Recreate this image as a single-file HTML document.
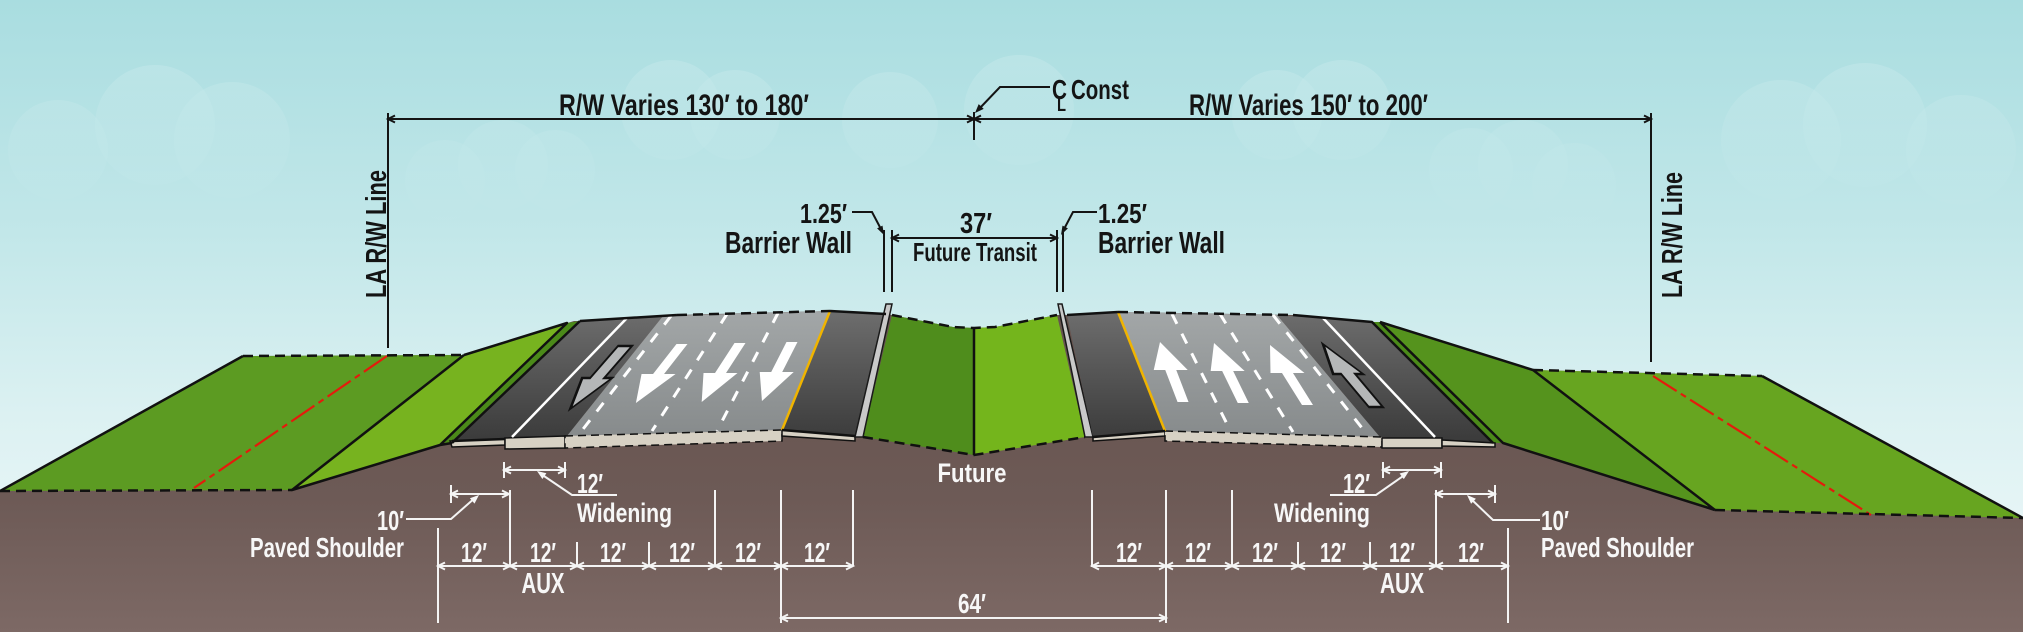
<!DOCTYPE html>
<html><head><meta charset="utf-8">
<style>
html,body{margin:0;padding:0;background:#fff}
svg{display:block}
.t{font-family:"Liberation Sans Narrow","Liberation Sans",sans-serif;font-weight:bold}
.k{fill:#141414}
.w{fill:#f7f7f7}
</style></head><body>
<svg xmlns="http://www.w3.org/2000/svg" width="2023" height="632" viewBox="0 0 2023 632">
<defs>
<linearGradient id="sky" gradientUnits="userSpaceOnUse" x1="0" y1="0" x2="0" y2="520">
 <stop offset="0" stop-color="#a9dde0"/>
 <stop offset="0.45" stop-color="#c2e7e9"/>
 <stop offset="0.8" stop-color="#dcf1f2"/>
 <stop offset="1" stop-color="#e6f5f6"/>
</linearGradient>
<linearGradient id="cl" gradientUnits="userSpaceOnUse" x1="0" y1="60" x2="0" y2="260">
 <stop offset="0" stop-color="#c4e8ea" stop-opacity="0.55"/>
 <stop offset="1" stop-color="#c4e8ea" stop-opacity="0"/>
</linearGradient>
<linearGradient id="gnd" gradientUnits="userSpaceOnUse" x1="0" y1="300" x2="0" y2="632">
 <stop offset="0" stop-color="#65524d"/>
 <stop offset="0.6" stop-color="#6d5a56"/>
 <stop offset="1" stop-color="#7d6965"/>
</linearGradient>
<linearGradient id="dk" gradientUnits="userSpaceOnUse" x1="0" y1="310" x2="0" y2="440">
 <stop offset="0" stop-color="#6e6e6e"/>
 <stop offset="1" stop-color="#3b3b3b"/>
</linearGradient>
<linearGradient id="lt" gradientUnits="userSpaceOnUse" x1="0" y1="310" x2="0" y2="440">
 <stop offset="0" stop-color="#a3a7a8"/>
 <stop offset="1" stop-color="#868a8b"/>
</linearGradient>
</defs>

<!-- sky -->
<rect x="0" y="0" width="2023" height="632" fill="url(#sky)"/>
<g fill="url(#cl)">
 <circle cx="58" cy="150" r="50"/><circle cx="155" cy="125" r="60"/><circle cx="232" cy="140" r="58"/>
 <circle cx="445" cy="180" r="40"/><circle cx="503" cy="165" r="45"/><circle cx="555" cy="170" r="40"/>
 <circle cx="671" cy="110" r="50"/><circle cx="735" cy="115" r="45"/><circle cx="890" cy="120" r="48"/>
 <circle cx="1019" cy="110" r="55"/><circle cx="1277" cy="115" r="45"/><circle cx="1342" cy="110" r="50"/>
 <circle cx="1471" cy="170" r="42"/><circle cx="1523" cy="165" r="45"/><circle cx="1574" cy="185" r="42"/>
 <circle cx="1781" cy="140" r="60"/><circle cx="1865" cy="125" r="62"/><circle cx="1961" cy="150" r="55"/>
</g>

<!-- ground -->
<polygon fill="url(#gnd)" points="0,491 243,356 464,355 574,321 580,321 677,315 830,311 886,314 892,315 953,327 974,328 995,327 1057,315 1067,315 1118,312 1293,315 1372,322 1380,322 1533,370 1762,376 2023,518 2023,632 0,632"/>

<!-- left grass -->
<polygon fill="#5c9b22" points="0,491 243,356 464,355 292,490"/>
<polygon fill="#77b31f" points="292,490 464,355 567,323 440,445"/>
<polygon fill="#4b8a19" points="440,445 567,323 580,321 452,443"/>

<!-- left road -->
<polygon fill="url(#dk)" points="452,441 580,321 663,316 567,436"/>
<polygon fill="url(#lt)" points="567,436 663,316 830,311 782,430"/>
<polygon fill="url(#dk)" points="782,430 830,311 886,314 855,436"/>
<g fill="#d7d1c4" stroke="#111" stroke-width="1.5">
 <polygon points="450,441 505,439 505,445 452,447"/>
 <polygon points="505,438 565,436 565,448 505,449"/>
 <polygon points="565,436 782,430 782,441 565,448" stroke-dasharray="8 5"/>
 <polygon points="782,430 855,436 855,441 782,436"/>
</g>
<line x1="627" y1="318" x2="512" y2="437" stroke="#fff" stroke-width="2.5"/>
<g stroke="#fff" stroke-width="3" stroke-dasharray="11 11">
 <line x1="671" y1="316" x2="580" y2="433"/>
 <line x1="727" y1="314" x2="652" y2="431"/>
 <line x1="778" y1="313" x2="717" y2="431"/>
</g>
<line x1="830" y1="311" x2="782" y2="430" stroke="#f0b400" stroke-width="2.5"/>
<g fill="#fff">
 <polygon transform="translate(682,344) skewX(-38)" points="-5.5,0 5.5,0 5.5,30 17,30 0,59 -17,30 -5.5,30"/>
 <polygon transform="translate(740,343) skewX(-33)" points="-5.5,0 5.5,0 5.5,30 17,30 0,59 -17,30 -5.5,30"/>
 <polygon transform="translate(792,342) skewX(-27)" points="-5.5,0 5.5,0 5.5,30 17,30 0,59 -17,30 -5.5,30"/>
</g>
<polygon transform="translate(625,346) skewX(-41)" fill="#b5b7b8" stroke="#111" stroke-width="2.5" points="-7,0 7,0 7,32 15,32 0,63 -15,32 -7,32"/>

<!-- median -->
<polygon fill="#4f8d1c" points="892,315 953,327 974,328 974,455 863,437"/>
<polygon fill="#74b51c" points="974,328 995,327 1057,315 1085,437 974,455"/>
<polygon fill="#c9c9c9" stroke="#1a1a1a" stroke-width="1.5" points="886,304 892,304 863,437 855,437"/>
<polygon fill="#c9c9c9" stroke="#1a1a1a" stroke-width="1.5" points="1058,304 1062,304 1093,437 1085,437"/>

<!-- right road -->
<polygon fill="url(#dk)" points="1067,315 1118,312 1165,431 1093,437"/>
<polygon fill="url(#lt)" points="1118,312 1277,315 1380,437 1165,431"/>
<polygon fill="url(#dk)" points="1277,315 1372,322 1493,443 1380,437"/>
<polygon fill="#4b8a19" points="1372,322 1380,322 1503,443 1493,443"/>
<g fill="#d7d1c4" stroke="#111" stroke-width="1.5">
 <polygon points="1093,437 1165,431 1165,436 1093,441"/>
 <polygon points="1165,431 1382,437 1382,447 1165,441" stroke-dasharray="8 5"/>
 <polygon points="1382,438 1442,438 1442,448 1382,448"/>
 <polygon points="1442,440 1495,443 1495,447 1442,446"/>
</g>
<line x1="1323" y1="318" x2="1435" y2="437" stroke="#fff" stroke-width="2.5"/>
<g stroke="#fff" stroke-width="3" stroke-dasharray="11 11">
 <line x1="1172" y1="314" x2="1230" y2="430"/>
 <line x1="1220" y1="314" x2="1293" y2="432"/>
 <line x1="1273" y1="315" x2="1362" y2="428"/>
</g>
<line x1="1118" y1="312" x2="1165" y2="431" stroke="#f0b400" stroke-width="2.5"/>
<g fill="#fff">
 <polygon transform="translate(1160,342) skewX(21)" points="0,0 17,28 5.5,28 5.5,60 -5.5,60 -5.5,28 -17,28"/>
 <polygon transform="translate(1214,343) skewX(26)" points="0,0 17,28 5.5,28 5.5,60 -5.5,60 -5.5,28 -17,28"/>
 <polygon transform="translate(1270,345) skewX(32)" points="0,0 17,28 5.5,28 5.5,60 -5.5,60 -5.5,28 -17,28"/>
</g>
<polygon transform="translate(1323,344) skewX(40)" fill="#b5b7b8" stroke="#111" stroke-width="2.5" points="0,0 15,30 7,30 7,63 -7,63 -7,30 -15,30"/>

<!-- right grass -->
<polygon fill="#55931d" points="1380,322 1533,370 1715,510 1506,445 1503,443"/>
<polygon fill="#67a520" points="1533,370 1762,376 2023,518 1715,510"/>

<!-- red R/W lines -->
<g stroke="#e41b0c" stroke-width="2.2" stroke-dasharray="28 5 6 5" fill="none">
 <line x1="387" y1="356" x2="194" y2="488"/>
 <line x1="1653" y1="376" x2="1871" y2="515"/>
</g>

<!-- outlines -->
<g stroke="#111" stroke-width="2.5" fill="none" stroke-linejoin="round">
 <path d="M0,491 L243,356"/>
 <path d="M464,355 L292,490 L440,445 L452,443 M464,355 L567,323 L440,445 M580,321 L452,443"/>
 <path d="M580,321 L677,315 M830,311 L886,314"/>
 <path d="M452,441 L505,439 M782,430 L855,436"/>
 <path d="M974,328 L974,455"/>
 <path d="M1067,315 L1118,312 M1293,315 L1372,322 L1493,443 M1380,322 L1503,443 L1715,510 M1380,322 L1533,370 L1715,510 M1762,376 L2023,518"/>
 <path d="M1093,437 L1165,431"/>
</g>
<g stroke="#111" stroke-width="2.5" fill="none" stroke-dasharray="10 6">
 <path d="M243,356 L464,355"/>
 <path d="M0,491 L292,490"/>
 <path d="M677,315 L830,311"/>
 <path d="M892,315 L953,327 L974,328 L995,327 L1057,315"/>
 <path d="M863,437 L974,455 L1085,437"/>
 <path d="M1118,312 L1293,315"/>
 <path d="M1533,370 L1762,376"/>
 <path d="M1715,510 L2023,518"/>
</g>

<!-- black dimensions -->
<g stroke="#141414" stroke-width="2" fill="none">
 <path d="M388,119 H1651 M388,113 V348 M1651,113 V362 M974,112 V140"/>
 <path d="M395,115.5 L388,119 L395,122.5 M967,115.5 L974,119 L967,122.5 M981,115.5 L974,119 L981,122.5 M1644,115.5 L1651,119 L1644,122.5"/>
 <path d="M1050,87 H1000 L979,109"/>
 <path d="M884,230 V292 M892,230 V292 M1057,230 V292 M1063,230 V292 M892,238 H1057"/>
 <path d="M899,234.5 L892,238 L899,241.5 M1050,234.5 L1057,238 L1050,241.5"/>
 <path d="M852,212 H872 L882,231 M1097,212 H1073 L1063,231"/>
</g>
<g class="k">
 <polygon points="975,113 983.7,108.9 978.7,104.1"/>
 <polygon points="884,235 882.5,225.6 877.1,228.4"/>
 <polygon points="1061,235 1067.9,228.4 1062.5,225.6"/>
</g>

<!-- white dimensions -->
<g stroke="#f4f4f4" stroke-width="2" fill="none">
 <path d="M438,566 H853 M1092,566 H1508"/>
 <path d="M438,528 V623 M510,490 V566 M577,542 V566 M649,542 V566 M715,490 V566 M781,490 V623 M853,490 V566"/>
 <path d="M1092,490 V567 M1166,490 V623 M1232,490 V567 M1298,542 V567 M1370,542 V567 M1436,490 V567 M1508,528 V623"/>
 <path d="M445,562.5 L438,566 L445,569.5 M503,562.5 L510,566 L503,569.5 M517,562.5 L510,566 L517,569.5 M570,562.5 L577,566 L570,569.5 M584,562.5 L577,566 L584,569.5 M642,562.5 L649,566 L642,569.5 M656,562.5 L649,566 L656,569.5 M708,562.5 L715,566 L708,569.5 M722,562.5 L715,566 L722,569.5 M774,562.5 L781,566 L774,569.5 M788,562.5 L781,566 L788,569.5 M846,562.5 L853,566 L846,569.5"/>
 <path d="M1099,562.5 L1092,566 L1099,569.5 M1159,562.5 L1166,566 L1159,569.5 M1173,562.5 L1166,566 L1173,569.5 M1225,562.5 L1232,566 L1225,569.5 M1239,562.5 L1232,566 L1239,569.5 M1291,562.5 L1298,566 L1291,569.5 M1305,562.5 L1298,566 L1305,569.5 M1363,562.5 L1370,566 L1363,569.5 M1377,562.5 L1370,566 L1377,569.5 M1429,562.5 L1436,566 L1429,569.5 M1443,562.5 L1436,566 L1443,569.5 M1501,562.5 L1508,566 L1501,569.5"/>
 <path d="M781,618 H1166 M788,614.5 L781,618 L788,621.5 M1159,614.5 L1166,618 L1159,621.5"/>
 <path d="M504,470 H565 M504,462 V478 M565,462 V478 M511,466.5 L504,470 L511,473.5 M558,466.5 L565,470 L558,473.5"/>
 <path d="M617,495 H572 L541,474"/>
 <path d="M451,494 H509 M451,485 V503 M458,490.5 L451,494 L458,497.5 M502,490.5 L509,494 L502,497.5"/>
 <path d="M406,519 H451 L476,497"/>
 <path d="M1383,470 H1441 M1383,462 V478 M1441,462 V478 M1390,466.5 L1383,470 L1390,473.5 M1434,466.5 L1441,470 L1434,473.5"/>
 <path d="M1330,495 H1376 L1406,474"/>
 <path d="M1436,494 H1495 M1495,485 V503 M1443,490.5 L1436,494 L1443,497.5 M1488,490.5 L1495,494 L1488,497.5"/>
 <path d="M1540,520 H1493 L1470,498"/>
</g>
<g class="w">
 <polygon points="537,471 546.4,473.2 542.4,479"/>
 <polygon points="479,495 474.5,503.6 469.9,498.2"/>
 <polygon points="1409,471 1403.8,479.1 1399.6,473.5"/>
 <polygon points="1467,495 1475.9,498.7 1471.1,503.7"/>
</g>

<!-- black labels -->
<g class="t k">
 <text x="559" y="115" font-size="30" textLength="250" lengthAdjust="spacingAndGlyphs">R/W Varies 130′ to 180′</text>
 <text x="1189" y="115" font-size="30" textLength="239" lengthAdjust="spacingAndGlyphs">R/W Varies 150′ to 200′</text>
 <text x="1052" y="99" font-size="28" textLength="15" lengthAdjust="spacingAndGlyphs">C</text>
 <text x="1057" y="111" font-size="19" textLength="9" lengthAdjust="spacingAndGlyphs">L</text>
 <text x="1071" y="99" font-size="28" textLength="58" lengthAdjust="spacingAndGlyphs">Const</text>
 <text x="800" y="223" font-size="28" textLength="47" lengthAdjust="spacingAndGlyphs">1.25′</text>
 <text x="725" y="253" font-size="31" textLength="127" lengthAdjust="spacingAndGlyphs">Barrier Wall</text>
 <text x="960" y="233" font-size="29" textLength="32" lengthAdjust="spacingAndGlyphs">37′</text>
 <text x="913" y="261" font-size="26" textLength="124" lengthAdjust="spacingAndGlyphs">Future Transit</text>
 <text x="1098" y="223" font-size="28" textLength="49" lengthAdjust="spacingAndGlyphs">1.25′</text>
 <text x="1098" y="253" font-size="31" textLength="127" lengthAdjust="spacingAndGlyphs">Barrier Wall</text>
 <text transform="translate(386,298) rotate(-90)" font-size="29" textLength="128" lengthAdjust="spacingAndGlyphs">LA R/W Line</text>
 <text transform="translate(1682,298) rotate(-90)" font-size="29" textLength="126" lengthAdjust="spacingAndGlyphs">LA R/W Line</text>
</g>

<!-- white labels -->
<g class="t w">
 <text x="972" y="482" font-size="27" text-anchor="middle" textLength="69" lengthAdjust="spacingAndGlyphs">Future</text>
 <text x="377" y="530" font-size="28" textLength="27" lengthAdjust="spacingAndGlyphs">10′</text>
 <text x="250" y="557" font-size="28" textLength="154" lengthAdjust="spacingAndGlyphs">Paved Shoulder</text>
 <text x="577" y="493" font-size="28" textLength="26" lengthAdjust="spacingAndGlyphs">12′</text>
 <text x="577" y="522" font-size="27" textLength="95" lengthAdjust="spacingAndGlyphs">Widening</text>
 <text x="1343" y="493" font-size="28" textLength="27" lengthAdjust="spacingAndGlyphs">12′</text>
 <text x="1274" y="522" font-size="27" textLength="96" lengthAdjust="spacingAndGlyphs">Widening</text>
 <text x="1541" y="530" font-size="28" textLength="28" lengthAdjust="spacingAndGlyphs">10′</text>
 <text x="1541" y="557" font-size="28" textLength="153" lengthAdjust="spacingAndGlyphs">Paved Shoulder</text>
 <g font-size="28" text-anchor="middle">
  <text x="474" y="562" textLength="26" lengthAdjust="spacingAndGlyphs">12′</text>
  <text x="543" y="562" textLength="26" lengthAdjust="spacingAndGlyphs">12′</text>
  <text x="613" y="562" textLength="26" lengthAdjust="spacingAndGlyphs">12′</text>
  <text x="682" y="562" textLength="26" lengthAdjust="spacingAndGlyphs">12′</text>
  <text x="748" y="562" textLength="26" lengthAdjust="spacingAndGlyphs">12′</text>
  <text x="817" y="562" textLength="26" lengthAdjust="spacingAndGlyphs">12′</text>
  <text x="1129" y="562" textLength="26" lengthAdjust="spacingAndGlyphs">12′</text>
  <text x="1198" y="562" textLength="26" lengthAdjust="spacingAndGlyphs">12′</text>
  <text x="1265" y="562" textLength="26" lengthAdjust="spacingAndGlyphs">12′</text>
  <text x="1333" y="562" textLength="26" lengthAdjust="spacingAndGlyphs">12′</text>
  <text x="1402" y="562" textLength="26" lengthAdjust="spacingAndGlyphs">12′</text>
  <text x="1471" y="562" textLength="26" lengthAdjust="spacingAndGlyphs">12′</text>
 </g>
 <text x="543" y="593" font-size="29" text-anchor="middle" textLength="43" lengthAdjust="spacingAndGlyphs">AUX</text>
 <text x="1402" y="593" font-size="29" text-anchor="middle" textLength="44" lengthAdjust="spacingAndGlyphs">AUX</text>
 <text x="972" y="613" font-size="28" text-anchor="middle" textLength="28" lengthAdjust="spacingAndGlyphs">64′</text>
</g>
</svg>
</body></html>
